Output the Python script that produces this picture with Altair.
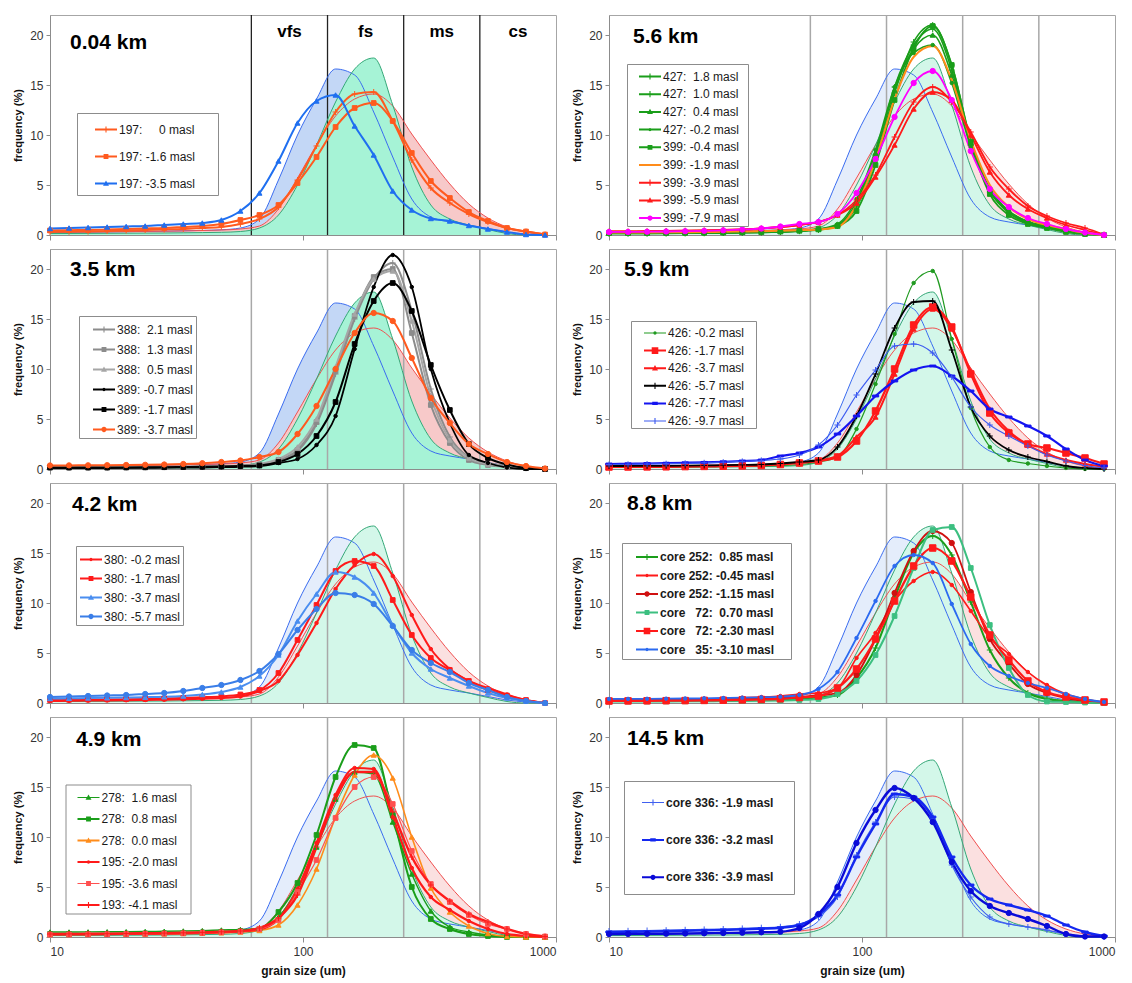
import altair as alt
import pandas as pd

FONT = "Liberation Sans"

# grain-size classes of the sampled distributions (um), quarter-phi steps
X_GRID = [10, 11.89, 14.14, 16.82, 20, 23.78, 28.28, 33.64, 40, 47.57, 56.57, 67.27, 80,
          95.14, 113.1, 134.5, 160, 190.3, 226.3, 269.1, 320, 380.5, 452.5, 538.2, 640, 761.1, 905.1]

# reference distributions (drawn in every panel)
REF_BLUE = [0.25, 0.27, 0.29, 0.31, 0.33, 0.36, 0.39, 0.42, 0.46, 0.52, 0.7, 1.6, 5.5, 10.0, 13.6,
            16.6, 16.0, 12.3, 7.8, 3.6, 1.8, 1.3, 1.0, 0.65, 0.3, 0.1, 0.0]
REF_GREEN = [0.15, 0.15, 0.16, 0.17, 0.18, 0.19, 0.2, 0.22, 0.24, 0.27, 0.35, 0.7, 2.0, 5.0, 9.0,
             13.3, 16.6, 17.7, 13.0, 6.8, 3.0, 1.6, 1.0, 0.55, 0.15, 0.0, 0.0]
REF_RED = [0.3, 0.3, 0.31, 0.32, 0.34, 0.36, 0.38, 0.41, 0.45, 0.5, 0.6, 0.9, 2.6, 5.7, 9.0,
           11.9, 13.6, 14.1, 12.9, 10.1, 7.5, 5.1, 3.1, 1.7, 0.8, 0.3, 0.05]

CLASS_BOUNDS = [62.5, 125, 250, 500]
CLASS_CENTERS = [88.4, 176.8, 353.6, 707.1]
CLASS_LABELS = ["vfs", "fs", "ms", "cs"]

# ---------------- panel data ----------------
P1_TITLE = "0.04 km"
P1_LABELS = ["197:     0 masl", "197: -1.6 masl", "197: -3.5 masl"]
P1_VALUES = [
    [0.3, 0.33, 0.35, 0.4, 0.45, 0.5, 0.55, 0.6, 0.7, 0.8, 1.1, 1.6, 2.8, 5.5, 8.9, 12.3, 14.1, 14.3, 11.4, 7.5, 4.7, 3.2, 2.1, 1.3, 0.7, 0.35, 0.05],
    [0.45, 0.48, 0.5, 0.55, 0.6, 0.65, 0.7, 0.8, 0.9, 1.1, 1.5, 2.0, 3.0, 5.2, 7.8, 10.8, 12.7, 13.2, 11.4, 8.2, 5.4, 3.7, 2.3, 1.4, 0.7, 0.35, 0.05],
    [0.65, 0.7, 0.75, 0.8, 0.85, 0.9, 1.0, 1.1, 1.2, 1.5, 2.4, 4.2, 7.4, 11.2, 13.4, 14.0, 10.9, 8.0, 4.4, 2.5, 1.65, 1.4, 0.95, 0.6, 0.3, 0.05, 0.0],
]

P2_TITLE = "5.6 km"
P2_LABELS = ["427:  1.8 masl", "427:  1.0 masl", "427:  0.4 masl", "427: -0.2 masl", "399: -0.4 masl",
             "399: -1.9 masl", "399: -3.9 masl", "399: -5.9 masl", "399: -7.9 masl"]
P2_VALUES = [
    [0.15, 0.15, 0.15, 0.16, 0.17, 0.18, 0.2, 0.22, 0.25, 0.3, 0.38, 0.5, 0.9, 2.8, 7.5, 14.2, 19.3, 21.0, 17.0, 9.5, 4.6, 2.3, 1.3, 0.8, 0.45, 0.15, 0.0],
    [0.15, 0.15, 0.16, 0.17, 0.18, 0.19, 0.21, 0.23, 0.26, 0.31, 0.4, 0.52, 0.9, 3.0, 8.0, 14.8, 19.0, 20.6, 16.5, 9.0, 4.4, 2.2, 1.2, 0.8, 0.4, 0.15, 0.0],
    [0.2, 0.2, 0.2, 0.21, 0.22, 0.23, 0.25, 0.27, 0.3, 0.35, 0.42, 0.55, 1.0, 3.3, 8.2, 14.5, 18.6, 20.0, 16.0, 9.2, 4.5, 2.4, 1.3, 0.85, 0.45, 0.15, 0.0],
    [0.2, 0.2, 0.21, 0.22, 0.23, 0.24, 0.26, 0.28, 0.31, 0.36, 0.44, 0.58, 1.1, 3.6, 8.5, 14.8, 18.2, 19.0, 15.2, 8.8, 4.6, 2.4, 1.35, 0.9, 0.5, 0.2, 0.0],
    [0.2, 0.2, 0.21, 0.22, 0.23, 0.24, 0.26, 0.28, 0.31, 0.36, 0.45, 0.6, 0.9, 2.4, 7.0, 13.5, 18.7, 20.9, 17.0, 9.3, 4.1, 2.0, 1.1, 0.7, 0.3, 0.1, 0.0],
    [0.25, 0.25, 0.26, 0.27, 0.28, 0.3, 0.32, 0.35, 0.38, 0.42, 0.48, 0.55, 0.8, 3.0, 7.5, 13.6, 17.8, 18.9, 15.5, 9.5, 5.0, 2.8, 1.6, 1.0, 0.6, 0.2, 0.0],
    [0.35, 0.36, 0.38, 0.4, 0.43, 0.46, 0.5, 0.56, 0.65, 0.8, 1.0, 1.3, 2.0, 3.5, 6.0, 9.8, 13.3, 14.8, 13.3, 10.3, 6.8, 4.6, 2.9, 1.9, 1.2, 0.7, 0.05],
    [0.35, 0.36, 0.38, 0.4, 0.43, 0.46, 0.5, 0.56, 0.65, 0.8, 1.0, 1.3, 2.0, 3.2, 5.8, 9.0, 12.6, 14.3, 13.5, 10.0, 6.3, 4.0, 2.6, 1.7, 1.0, 0.5, 0.05],
    [0.3, 0.31, 0.33, 0.35, 0.38, 0.42, 0.47, 0.55, 0.65, 0.85, 1.1, 1.3, 2.1, 4.2, 7.6, 11.8, 15.2, 16.4, 13.5, 8.4, 4.6, 2.8, 1.7, 1.1, 0.6, 0.25, 0.0],
]

P3_TITLE = "3.5 km"
P3_LABELS = ["388:  2.1 masl", "388:  1.3 masl", "388:  0.5 masl", "389: -0.7 masl", "389: -1.7 masl", "389: -3.7 masl"]
P3_VALUES = [
    [0.15, 0.15, 0.15, 0.15, 0.16, 0.17, 0.18, 0.2, 0.22, 0.25, 0.3, 0.4, 0.8, 1.8, 4.5, 9.5, 15.0, 19.0, 20.6, 15.8, 8.0, 3.2, 1.2, 0.6, 0.3, 0.1, 0.0],
    [0.15, 0.15, 0.15, 0.15, 0.16, 0.17, 0.18, 0.2, 0.22, 0.25, 0.3, 0.45, 0.9, 1.9, 4.7, 9.8, 15.3, 19.2, 20.0, 13.6, 6.4, 2.6, 0.9, 0.4, 0.2, 0.1, 0.0],
    [0.2, 0.2, 0.2, 0.2, 0.21, 0.22, 0.23, 0.25, 0.27, 0.3, 0.36, 0.5, 1.0, 2.2, 5.0, 10.2, 15.5, 19.0, 19.8, 14.8, 7.2, 2.9, 1.1, 0.5, 0.25, 0.1, 0.0],
    [0.1, 0.1, 0.1, 0.1, 0.11, 0.12, 0.13, 0.14, 0.15, 0.18, 0.22, 0.3, 0.6, 1.0, 2.4, 5.3, 12.0, 18.2, 21.4, 18.2, 10.0, 4.6, 1.4, 0.6, 0.15, 0.0, 0.0],
    [0.15, 0.15, 0.15, 0.15, 0.16, 0.17, 0.18, 0.2, 0.22, 0.25, 0.3, 0.35, 0.7, 1.5, 3.3, 6.7, 12.5, 16.8, 18.6, 15.8, 10.4, 5.9, 2.5, 1.1, 0.45, 0.1, 0.0],
    [0.35, 0.36, 0.37, 0.38, 0.4, 0.42, 0.45, 0.5, 0.58, 0.7, 0.85, 1.2, 1.7, 3.5, 6.3, 10.0, 13.6, 15.6, 14.8, 11.1, 7.1, 4.6, 2.5, 1.5, 0.7, 0.3, 0.05],
]

P4_TITLE = "5.9 km"
P4_LABELS = ["426: -0.2 masl", "426: -1.7 masl", "426: -3.7 masl", "426: -5.7 masl", "426: -7.7 masl", "426: -9.7 masl"]
P4_VALUES = [
    [0.2, 0.2, 0.2, 0.21, 0.22, 0.23, 0.25, 0.27, 0.3, 0.35, 0.45, 0.7, 1.2, 4.0, 8.5, 13.5, 18.6, 19.8, 13.0, 6.1, 2.2, 0.9, 0.55, 0.3, 0.1, 0.0, 0.0],
    [0.2, 0.2, 0.21, 0.22, 0.24, 0.26, 0.28, 0.31, 0.35, 0.45, 0.6, 0.8, 1.2, 2.8, 5.8, 10.0, 14.4, 16.2, 14.2, 9.5, 5.6, 3.6, 2.5, 2.1, 1.6, 1.1, 0.5],
    [0.25, 0.25, 0.26, 0.27, 0.29, 0.31, 0.33, 0.36, 0.4, 0.5, 0.65, 0.85, 1.3, 3.2, 5.2, 9.5, 14.0, 16.0, 14.0, 9.8, 6.0, 3.8, 2.4, 1.5, 0.9, 0.5, 0.2],
    [0.3, 0.3, 0.31, 0.32, 0.34, 0.36, 0.38, 0.41, 0.45, 0.55, 0.7, 0.9, 2.2, 5.3, 9.5, 14.1, 16.7, 16.8, 11.9, 6.2, 3.3, 1.9, 1.2, 0.75, 0.3, 0.1, 0.0],
    [0.5, 0.52, 0.55, 0.58, 0.62, 0.66, 0.72, 0.8, 0.9, 1.3, 1.6, 2.2, 3.5, 5.3, 7.3, 8.8, 9.9, 10.3, 9.3, 7.8, 6.0, 5.2, 4.3, 3.3, 2.0, 0.9, 0.3],
    [0.45, 0.47, 0.5, 0.53, 0.57, 0.62, 0.68, 0.76, 0.86, 1.0, 1.4, 2.4, 4.4, 7.4, 9.9, 12.3, 12.5, 11.6, 9.2, 6.2, 4.4, 3.3, 2.3, 1.4, 0.8, 0.35, 0.1],
]

P5_TITLE = "4.2 km"
P5_LABELS = ["380: -0.2 masl", "380: -1.7 masl", "380: -3.7 masl", "380: -5.7 masl"]
P5_VALUES = [
    [0.2, 0.22, 0.24, 0.26, 0.28, 0.3, 0.33, 0.37, 0.42, 0.5, 0.65, 1.2, 2.2, 4.8, 8.0, 11.4, 13.8, 14.9, 12.7, 8.8, 5.4, 3.4, 2.2, 1.5, 0.85, 0.3, 0.0],
    [0.3, 0.32, 0.34, 0.36, 0.38, 0.41, 0.45, 0.5, 0.57, 0.66, 0.85, 1.3, 3.0, 6.3, 9.8, 13.2, 14.2, 13.7, 10.3, 6.8, 4.5, 3.3, 2.2, 1.3, 0.75, 0.3, 0.0],
    [0.45, 0.47, 0.5, 0.52, 0.55, 0.58, 0.62, 0.7, 0.85, 1.1, 1.6, 2.7, 4.8, 8.2, 10.9, 13.1, 12.6, 11.0, 7.8, 5.0, 3.4, 2.5, 1.7, 1.0, 0.5, 0.2, 0.0],
    [0.6, 0.65, 0.7, 0.75, 0.8, 0.9, 1.0, 1.2, 1.5, 1.8, 2.3, 3.2, 4.9, 7.3, 9.4, 11.0, 10.8, 9.9, 7.7, 5.3, 4.0, 3.1, 2.0, 1.3, 0.6, 0.2, 0.0],
]

P6_TITLE = "8.8 km"
P6_LABELS = ["core 252:  0.85 masl", "core 252: -0.45 masl", "core 252: -1.15 masl",
             "core   72:  0.70 masl", "core   72: -2.30 masl", "core   35: -3.10 masl"]
P6_VALUES = [
    [0.2, 0.21, 0.22, 0.23, 0.24, 0.26, 0.28, 0.3, 0.33, 0.37, 0.43, 0.55, 0.8, 2.5, 5.5, 10.5, 15.0, 16.7, 14.8, 10.1, 5.3, 2.5, 1.0, 0.4, 0.2, 0.1, 0.0],
    [0.3, 0.31, 0.33, 0.35, 0.38, 0.42, 0.47, 0.53, 0.6, 0.7, 0.9, 1.0, 1.5, 4.5, 7.0, 10.2, 12.2, 13.1, 11.8, 9.2, 6.5, 4.9, 3.1, 1.8, 0.9, 0.4, 0.05],
    [0.25, 0.26, 0.27, 0.28, 0.3, 0.32, 0.35, 0.38, 0.42, 0.48, 0.6, 0.75, 1.0, 2.8, 6.4, 11.0, 15.2, 17.2, 16.0, 11.1, 6.4, 3.9, 1.9, 1.0, 0.5, 0.2, 0.0],
    [0.15, 0.15, 0.15, 0.16, 0.17, 0.18, 0.19, 0.2, 0.22, 0.25, 0.3, 0.4, 0.9, 2.2, 4.8, 8.7, 13.5, 17.3, 17.6, 13.5, 7.8, 3.5, 0.8, 0.15, 0.1, 0.05, 0.0],
    [0.2, 0.21, 0.22, 0.23, 0.24, 0.26, 0.28, 0.31, 0.35, 0.42, 0.55, 0.7, 1.5, 3.4, 6.4, 10.2, 13.7, 15.5, 14.2, 10.6, 6.8, 4.3, 2.2, 1.1, 0.6, 0.3, 0.1],
    [0.4, 0.41, 0.42, 0.43, 0.45, 0.47, 0.5, 0.53, 0.57, 0.63, 0.8, 1.4, 3.1, 6.5, 10.2, 13.7, 14.8, 14.0, 9.9, 5.9, 3.7, 2.7, 2.0, 1.5, 0.9, 0.4, 0.1],
]

P7_TITLE = "4.9 km"
P7_LABELS = ["278:  1.6 masl", "278:  0.8 masl", "278:  0.0 masl", "195: -2.0 masl", "195: -3.6 masl", "193: -4.1 masl"]
P7_VALUES = [
    [0.5, 0.5, 0.51, 0.52, 0.53, 0.55, 0.57, 0.6, 0.64, 0.7, 0.75, 0.85, 2.0, 4.8, 9.0, 13.8, 16.5, 16.3, 11.5, 6.3, 2.6, 1.0, 0.5, 0.2, 0.1, 0.0, 0.0],
    [0.3, 0.3, 0.31, 0.32, 0.33, 0.35, 0.37, 0.4, 0.45, 0.52, 0.6, 0.8, 2.5, 5.4, 10.2, 16.0, 19.2, 18.9, 12.2, 5.0, 1.8, 0.8, 0.3, 0.1, 0.0, 0.0, 0.0],
    [0.25, 0.25, 0.26, 0.27, 0.28, 0.3, 0.32, 0.35, 0.38, 0.42, 0.5, 0.65, 1.2, 3.2, 6.8, 12.0, 16.2, 18.2, 15.9, 10.0, 4.9, 2.5, 1.1, 0.35, 0.05, 0.0, 0.0],
    [0.25, 0.26, 0.27, 0.28, 0.3, 0.32, 0.34, 0.37, 0.41, 0.47, 0.55, 0.75, 1.8, 4.8, 9.4, 14.2, 16.9, 16.8, 12.0, 6.9, 4.0, 2.7, 1.6, 0.8, 0.3, 0.1, 0.0],
    [0.25, 0.26, 0.27, 0.28, 0.3, 0.32, 0.34, 0.37, 0.41, 0.47, 0.55, 0.8, 1.7, 4.5, 7.7, 11.9, 15.0, 16.0, 13.3, 8.6, 5.3, 3.5, 2.2, 1.3, 0.8, 0.3, 0.05],
    [0.3, 0.31, 0.32, 0.33, 0.35, 0.37, 0.39, 0.42, 0.46, 0.52, 0.6, 0.9, 1.9, 4.2, 9.0, 13.8, 16.5, 16.5, 12.5, 8.0, 5.2, 3.6, 2.3, 1.5, 0.8, 0.3, 0.05],
]

P8_TITLE = "14.5 km"
P8_LABELS = ["core 336: -1.9 masl", "core 336: -3.2 masl", "core 336: -3.9 masl"]
P8_VALUES = [
    [0.6, 0.62, 0.65, 0.68, 0.72, 0.76, 0.8, 0.86, 0.93, 1.02, 1.3, 2.0, 4.0, 8.2, 11.5, 14.0, 13.8, 11.8, 7.2, 4.0, 2.0, 1.3, 1.0, 0.7, 0.3, 0.1, 0.0],
    [0.5, 0.52, 0.55, 0.58, 0.62, 0.66, 0.7, 0.76, 0.83, 0.92, 1.2, 2.2, 4.2, 8.0, 11.3, 14.3, 14.0, 12.0, 8.0, 5.2, 3.8, 3.2, 2.7, 2.1, 1.2, 0.5, 0.1],
    [0.3, 0.31, 0.32, 0.33, 0.35, 0.37, 0.4, 0.43, 0.47, 0.53, 0.9, 2.3, 5.0, 9.4, 12.7, 14.9, 13.9, 11.5, 7.5, 4.6, 3.1, 2.4, 1.8, 1.1, 0.3, 0.05, 0.05],
]

# ---------------- styles ----------------
RED = "#ff1a1a"
ORANGE_RED = "#ff5a1f"
ORANGE = "#ff8c1a"
GREEN = "#1a9e1a"
P1_STYLE = [(ORANGE_RED, "plus", 2.0), (ORANGE_RED, "square", 2.0), ("#1f6ff0", "triangle", 2.0)]
P2_STYLE = [(GREEN, "plus", 1.6), (GREEN, "plus", 1.6), (GREEN, "triangle", 1.6), (GREEN, "dot", 1.6),
            (GREEN, "square", 1.8), (ORANGE, "none", 2.0), (RED, "plus", 1.8), (RED, "triangle", 1.8),
            ("#ff00ff", "circle", 1.8)]
P3_STYLE = [("#8c8c8c", "plus", 2.0), ("#8c8c8c", "square", 2.0), ("#a6a6a6", "triangle", 2.0),
            ("#000000", "dot", 1.8), ("#000000", "square", 2.0), (ORANGE_RED, "circle", 2.0)]
P4_STYLE = [("#209a20", "dot", 1.2), (RED, "bigsquare", 2.2), (RED, "triangle", 2.0),
            ("#000000", "plus", 1.8), ("#1414f0", "dash", 2.2), ("#3c5af0", "plus", 1.2)]
P5_STYLE = [(RED, "dot", 2.0), (RED, "square", 2.0), ("#4a8ef0", "triangle", 2.0), ("#3a7ee8", "circle", 2.0)]
P6_STYLE = [(GREEN, "plus", 2.0), (RED, "dot", 1.6), ("#d01010", "circle", 1.8),
            ("#3cbf80", "square", 2.0), (RED, "bigsquare", 2.2), ("#2b6af0", "dot", 1.8)]
P7_STYLE = [(GREEN, "triangle", 1.4), (GREEN, "square", 2.0), (ORANGE, "triangle", 1.6),
            (RED, "dot", 2.2), ("#ff5050", "square", 1.2), (RED, "plus", 2.4)]
P8_STYLE = [("#4060f0", "plus", 1.2), ("#1428f0", "dash", 2.4), ("#0a0ad8", "circle", 2.4)]

POINT_SHAPES = {
    "plus": ("M-1,0H1M0,-1V1", 36, False),
    "square": ("square", 22, True),
    "bigsquare": ("square", 42, True),
    "triangle": ("triangle-up", 26, True),
    "circle": ("circle", 28, True),
    "dot": ("circle", 12, True),
    "dash": ("M-1,-0.3H1V0.3H-1Z", 40, True),
}
LEGEND_MARKERS = {
    "plus": "M-0.05,-0.28H0.05V0.28H-0.05Z",
    "square": "M-0.22,-0.22H0.22V0.22H-0.22Z",
    "bigsquare": "M-0.3,-0.3H0.3V0.3H-0.3Z",
    "triangle": "M0,-0.28L0.27,0.2H-0.27Z",
    "circle": "M-0.24,0A0.24,0.24 0 1,1 0.24,0A0.24,0.24 0 1,1 -0.24,0Z",
    "dot": "M-0.15,0A0.15,0.15 0 1,1 0.15,0A0.15,0.15 0 1,1 -0.15,0Z",
    "dash": "M-0.25,-0.14H0.25V0.14H-0.25Z",
    "none": "",
}

XS = alt.Scale(type="log", domain=[10, 1000], nice=False)
YS = alt.Scale(domain=[0, 22], nice=False)

W = 506
H = 220


def nb(s):
    return s.replace(" ", "\u00a0")


def make_panel(title, labels, values, style, bottom, strong, legend_cfg, title_xy, classes=False):
    if bottom:
        ax = alt.Axis(values=[10, 100, 1000], format="d", grid=False, tickSize=5, title="grain size (um)",
                      titleFontWeight="bold", titleFontSize=12, titlePadding=8, labelFontSize=12, labelPadding=4)
    else:
        ax = alt.Axis(values=[10, 100, 1000], labels=False, grid=False, tickSize=5, title=None)
    ay = alt.Axis(values=[0, 5, 10, 15, 20], grid=False, tickSize=4, labelPadding=3, title="frequency (%)",
                  titleFontWeight="bold", titleFontSize=11, titlePadding=6, labelFontSize=12)

    def X(f):
        return alt.X(f, type="quantitative", scale=XS, axis=ax)

    def Y(f):
        return alt.Y(f, type="quantitative", scale=YS, axis=ay)

    ref = pd.DataFrame({"x": X_GRID, "blue": REF_BLUE, "green": REF_GREEN, "red": REF_RED})
    if strong:
        fills = {"blue": "#c3d7f6", "red": "#f7c9c9", "green": "#a6f3d6"}
    else:
        fills = {"blue": "#e4edfb", "red": "#fbe0e0", "green": "#d3f7e9"}
    lines = {"blue": "#3a6cf0", "red": "#f05050", "green": "#35a878"}

    layers = []
    for k in ["blue", "red", "green"]:
        layers.append(alt.Chart(ref).mark_area(interpolate="monotone", color=fills[k], opacity=1)
                      .encode(x=X("x"), y=Y(k)))
    rules = pd.DataFrame({"b": CLASS_BOUNDS})
    layers.append(alt.Chart(rules).mark_rule(color="#222222" if classes else "#a8a8a8",
                                             strokeWidth=1.3 if classes else 1.5)
                  .encode(x=X("b"), y=alt.value(0), y2=alt.value(H)))
    for k in ["blue", "red", "green"]:
        layers.append(alt.Chart(ref).mark_line(interpolate="monotone", color=lines[k], strokeWidth=1)
                      .encode(x=X("x"), y=Y(k)))

    rows = []
    for lab, vals, (col, mk, lw) in zip(labels, values, style):
        for xv, yv in zip(X_GRID, vals):
            if mk == "none":
                shp, sz, filled = "circle", 0, True
            else:
                shp, sz, filled = POINT_SHAPES[mk]
            rows.append({"x": xv, "y": yv, "series": nb(lab), "col": col, "lw": lw,
                         "shape": shp, "size": sz, "fill": col if filled else "transparent"})
    df = pd.DataFrame(rows)
    layers.append(alt.Chart(df).mark_line(interpolate="monotone")
                  .encode(x=X("x"), y=Y("y"), detail="series:N",
                          color=alt.Color("col:N", scale=None),
                          strokeWidth=alt.StrokeWidth("lw:Q", scale=None)))
    layers.append(alt.Chart(df).mark_point(opacity=1, strokeWidth=1)
                  .encode(x=X("x"), y=Y("y"),
                          fill=alt.Fill("fill:N", scale=None),
                          stroke=alt.Stroke("col:N", scale=None),
                          shape=alt.Shape("shape:N", scale=None),
                          size=alt.Size("size:Q", scale=None)))

    if classes:
        cdf = pd.DataFrame({"cx": CLASS_CENTERS, "lab": CLASS_LABELS})
        layers.append(alt.Chart(cdf).mark_text(fontSize=17, fontWeight="bold", font=FONT, color="black",
                                               baseline="middle")
                      .encode(x=X("cx"), y=alt.value(17), text="lab:N"))

    tdf = pd.DataFrame({"t": [title]})
    layers.append(alt.Chart(tdf).mark_text(fontSize=21, fontWeight="bold", font=FONT, color="black",
                                           align="left", baseline="middle")
                  .encode(x=alt.value(title_xy[0]), y=alt.value(title_xy[1]), text="t:N"))

    # legend (drawn by the library from the series domain)
    lx, ly, pad, rpad, soff, trail, bold = legend_cfg
    paths = []
    for (col, mk, lw) in style:
        half = 0.09 if lw >= 1.6 else 0.055
        paths.append(f"M-1,-{half}H1V{half}H-1Z" + LEGEND_MARKERS[mk])
    dom = [nb(l) + ("\u00a0" * trail + "\u200b" if trail else "") for l in labels]
    leg = alt.Legend(title=None, orient="none", legendX=lx, legendY=ly, direction="vertical",
                     fillColor="white", strokeColor="#8c8c8c", padding=pad, rowPadding=rpad,
                     symbolSize=484, symbolOffset=soff, symbolStrokeWidth=0, labelOffset=2,
                     labelFont=FONT, labelFontSize=12, labelColor="#1a1a1a",
                     labelFontWeight="bold" if bold else "normal", labelLimit=300)
    ldf = pd.DataFrame({"series": dom, "x": [None] * len(dom), "y": [None] * len(dom)})
    layers.append(alt.Chart(ldf).mark_point(filled=True, opacity=1)
                  .encode(x=X("x"), y=Y("y"),
                          color=alt.Color("series:N", scale=alt.Scale(domain=dom, range=[s[0] for s in style]), legend=leg),
                          shape=alt.Shape("series:N", scale=alt.Scale(domain=dom, range=paths), legend=leg)))

    return alt.layer(*layers).properties(width=W, height=H)


# legend: (x, y, padding, rowPadding, symbolOffset, trailing spaces, bold)
p1 = make_panel(P1_TITLE, P1_LABELS, P1_VALUES, P1_STYLE, False, True, (27, 98, 5.5, 10, 12.5, 5, False), (20, 28), classes=True)
p2 = make_panel(P2_TITLE, P2_LABELS, P2_VALUES, P2_STYLE, False, False, (18, 49, 1.5, 0.7, 10.5, 2, False), (24, 22))
p3 = make_panel(P3_TITLE, P3_LABELS, P3_VALUES, P3_STYLE, False, True, (29, 67, 2.5, 3, 11.5, 0, False), (20, 21))
p4 = make_panel(P4_TITLE, P4_LABELS, P4_VALUES, P4_STYLE, False, False, (22, 72, 1, 0.6, 12, 3, False), (15, 21))
p5 = make_panel(P5_TITLE, P5_LABELS, P5_VALUES, P5_STYLE, False, False, (26, 63, 2.5, 2, 1.5, 0, False), (22, 22))
p6 = make_panel(P6_TITLE, P6_LABELS, P6_VALUES, P6_STYLE, False, False, (13, 60, 3, 1.5, 11, 4, True), (18, 21))
p7 = make_panel(P7_TITLE, P7_LABELS, P7_VALUES, P7_STYLE, True, False, (15.5, 67.5, 2, 4.5, 10, 3, False), (26, 23))
p8 = make_panel(P8_TITLE, P8_LABELS, P8_VALUES, P8_STYLE, True, False, (15, 64, 10.5, 20.4, 7.5, 3, True), (18, 22))

chart = alt.concat(p1, p2, p3, p4, p5, p6, p7, p8, columns=2, spacing={"row": 5, "column": 14}).resolve_scale(
    color="independent", shape="independent"
).properties(
    padding={"left": 12, "top": 13, "right": 5, "bottom": 5}
).configure(font=FONT).configure_view(stroke="#a6a6a6", strokeWidth=1).configure_axis(
    domainColor="#8c8c8c", tickColor="#8c8c8c", labelColor="#333333", labelFont=FONT, titleFont=FONT,
    titleColor="#111111"
)

chart.save("out.html", embed_options={"renderer": "svg", "actions": False})
